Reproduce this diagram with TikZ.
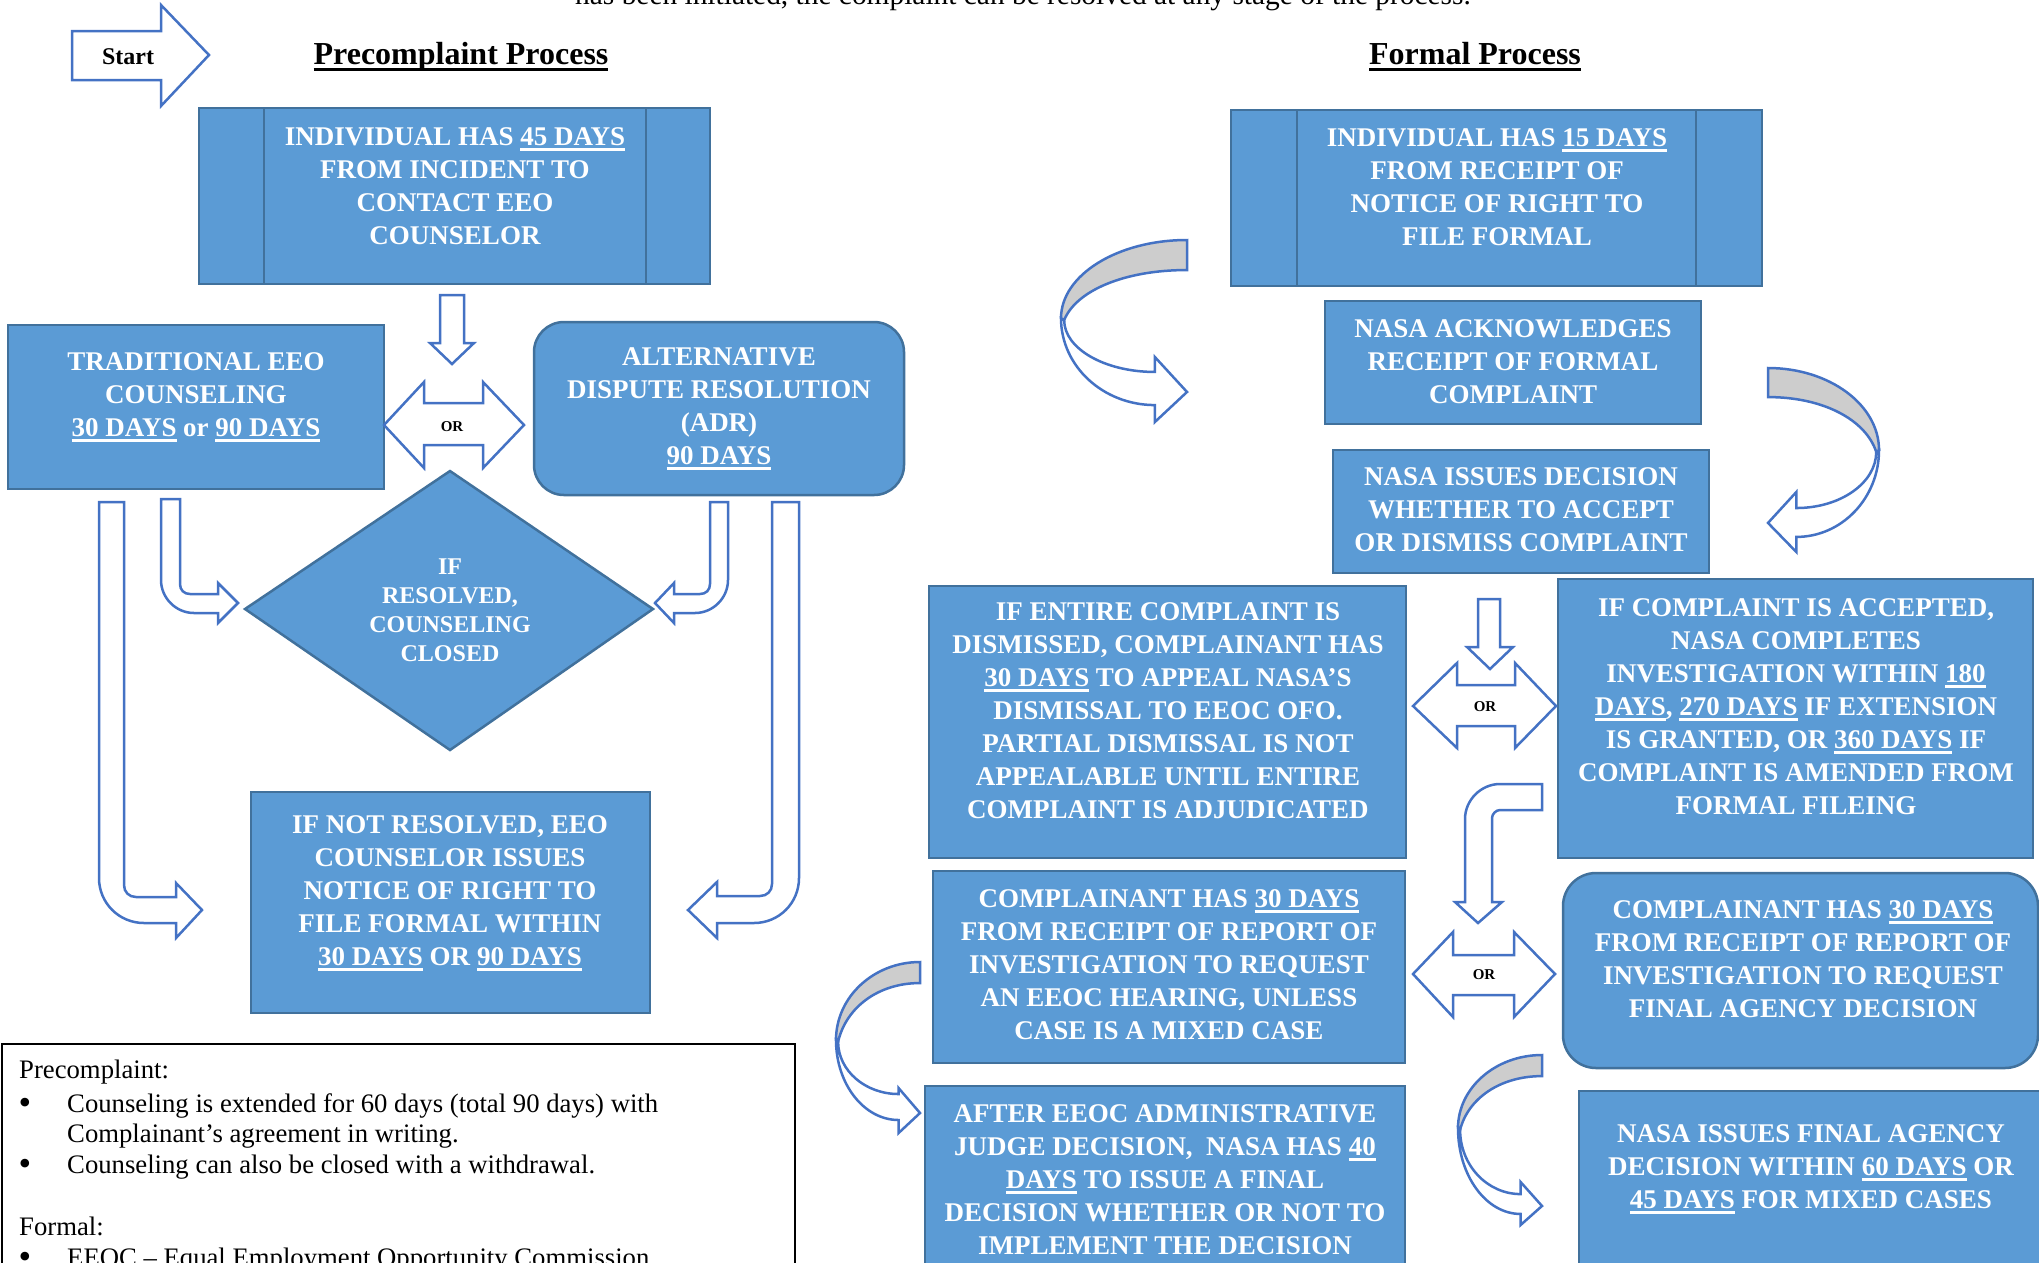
\documentclass[tikz,border=0pt]{standalone}
\usepackage{fontspec}
\setmainfont{Liberation Serif}
\definecolor{boxfill}{HTML}{5B9BD5}
\definecolor{boxline}{HTML}{41719C}
\definecolor{arrline}{HTML}{4472C4}
\definecolor{backgray}{HTML}{CDCDCD}
\newcommand\boxfont{\fontsize{27}{33}\selectfont\bfseries}
\newcommand\ml[1]{\vtop{\halign{\hfil##\hfil\cr#1\crcr}}}
\newcommand\uln[2][0.09em]{\setbox0=\hbox{#2}\rlap{\rule[-0.21em]{\wd0}{#1}}\box0\relax}
\newcommand\curvarr[6]{%
  \pgfmathsetmacro\cL{#1}%
  \pgfmathsetmacro\cLa{0.448*#1}%
  \pgfmathsetmacro\cLb{#1+0.01}%
  \pgfmathsetmacro\cT{#2}%
  \pgfmathsetmacro\cTm{#2+0.43*(#1-#2)}%
  \pgfmathsetmacro\cOa{#1+0.552*(#3-#1)}%
  \pgfmathsetmacro\cIa{#1+0.01+0.552*(#4-#1-0.01)}%
  \path[barrow] (0,\cL) .. controls (0,\cOa) and (0.334,#3) .. (0.745,#3) -- (0.745,1) -- (1,#6) -- (0.745,#5) -- (0.745,#4) .. controls (0.348,#4) and (0.025,\cIa) .. (0.025,\cLb) -- cycle;
  \path[barrow, fill=backgray] (1,0) .. controls (0.448,0) and (0,\cLa) .. (0,\cL) -- (0.025,\cLb) .. controls (0.12,\cTm) and (0.5,\cT) .. (1,\cT) -- cycle;
}
\tikzset{
  box/.style={draw=boxline, fill=boxfill, line width=2.5pt, inner sep=0pt, outer sep=0pt, anchor=north west},
  barrow/.style={draw=arrline, fill=white, line width=2.5pt, line join=miter},
  txt/.style={text=white, font=\boxfont, anchor=base, inner sep=0pt},
  ortxt/.style={anchor=base, inner sep=0pt, font=\fontsize{15}{18}\selectfont\bfseries},
  legtxt/.style={anchor=base west, inner sep=0pt, font=\fontsize{26.7}{31}\selectfont},
  legbul/.style={anchor=base, inner sep=0pt, font=\fontsize{36}{31}\selectfont},
  title/.style={anchor=base, inner sep=0pt, font=\fontsize{32}{38}\selectfont\bfseries},
}
\begin{document}
\begin{tikzpicture}[x=1pt, y=-1pt]
\useasboundingbox (0,0) rectangle (2039,1262);
\clip (0,0) rectangle (2039,1262);

% header text (cut at top)
\node[anchor=base, inner sep=0pt, font=\fontsize{29.4}{36}\selectfont] (thead) at (1023,4) {has been initiated, the complaint can be resolved at any stage of the process.};

% start arrow
\path[barrow] (72,31) -- (161,31) -- (161,5) -- (209,55) -- (161,106) -- (161,80) -- (72,80) -- cycle;
\node[anchor=base, inner sep=0pt, font=\fontsize{24}{28}\selectfont\bfseries] (tstart) at (128,64) {Start};

% titles
\node[title] (tpre) at (461,64) {\uln[0.1em]{Precomplaint Process}};
\node[title] (tform) at (1475,64) {\uln[0.1em]{Formal Process}};

% ---------- precomplaint boxes ----------
\node[box, minimum width=511pt, minimum height=176pt] (b45) at (199,108) {};
\draw[boxline, line width=2.5pt] ([xshift=65pt]b45.north west) -- ([xshift=65pt]b45.south west);
\draw[boxline, line width=2.5pt] ([xshift=-64pt]b45.north east) -- ([xshift=-64pt]b45.south east);
\node[box, minimum width=376pt, minimum height=164pt] (btrad) at (8,325) {};
\node[box, rounded corners=30pt, minimum width=370pt, minimum height=173pt] (badr) at (534,322) {};
\path[box] (450,471) -- (653,609) -- (450,750) -- (245,609) -- cycle;
\coordinate (bdia) at (450,609);
\node[box, minimum width=399pt, minimum height=221pt] (bnot) at (251,792) {};

% precomplaint arrows
\path[barrow] (440,295) -- (464,295) -- (464,343) -- (474,343) -- (452,364) -- (430,343) -- (440,343) -- cycle;
\path[barrow] (384,425) -- (424,382) -- (424,403) -- (483,403) -- (483,382) -- (524,425) -- (483,468) -- (483,445) -- (424,445) -- (424,468) -- cycle;
\node[ortxt] (or0) at (452,431) {OR};
\path[barrow] (161,499) -- (161,580) .. controls (161,598) and (176,613) .. (194,613) -- (218,613) -- (218,623) -- (238,603) -- (218,583) -- (218,594) -- (190,594) .. controls (184,594) and (180,590) .. (180,584) -- (180,499) -- cycle;
\path[barrow] (728,502) -- (728,580) .. controls (728,598) and (713,613) .. (695,613) -- (674,613) -- (674,623) -- (655,603) -- (674,583) -- (674,594) -- (700,594) .. controls (706,594) and (710,590) .. (710,584) -- (710,502) -- cycle;
\path[barrow] (99,502) -- (99,878) .. controls (99,903) and (119,923) .. (144,923) -- (176,923) -- (176,938) -- (202,910) -- (176,883) -- (176,897) -- (136,897) .. controls (129,897) and (124,892) .. (124,885) -- (124,502) -- cycle;
\path[barrow] (799,502) -- (799,878) .. controls (799,903) and (779,923) .. (754,923) -- (717,923) -- (717,938) -- (688,910) -- (717,882) -- (717,896) -- (760,896) .. controls (767,896) and (772,891) .. (772,884) -- (772,502) -- cycle;

% precomplaint texts
\node[txt] (t45) at (455,145) {\ml{INDIVIDUAL HAS \uln{45 DAYS}\cr FROM INCIDENT TO\cr CONTACT EEO\cr COUNSELOR}};
\node[txt] (ttrad) at (196,370) {\ml{TRADITIONAL EEO\cr COUNSELING\cr \uln{30 DAYS} or \uln{90 DAYS}}};
\node[txt] (tadr) at (719,365) {\ml{ALTERNATIVE\cr DISPUTE RESOLUTION\cr (ADR)\cr \uln{90 DAYS}}};
\node[txt, font=\fontsize{24}{29.3}\selectfont\bfseries] (tdia) at (450,574) {\ml{IF\cr RESOLVED,\cr COUNSELING\cr CLOSED}};
\node[txt] (tnot) at (450,833) {\ml{IF NOT RESOLVED, EEO\cr COUNSELOR ISSUES\cr NOTICE OF RIGHT TO\cr FILE FORMAL WITHIN\cr \uln{30 DAYS} OR \uln{90 DAYS}}};

% legend
\node[draw=black, line width=2pt, minimum width=793pt, minimum height=260pt, anchor=north west, inner sep=0pt] (legend) at (1,1043) {};
\node[legtxt] (l1) at (19,1078) {Precomplaint:};
\node[legbul] (l2b) at (25,1114) {•};
\node[legtxt] (l2) at (67,1112) {Counseling is extended for 60 days (total 90 days) with};
\node[legtxt] (l3) at (67,1142) {Complainant’s agreement in writing.};
\node[legbul] (l4b) at (25,1175) {•};
\node[legtxt] (l4) at (67,1173) {Counseling can also be closed with a withdrawal.};
\node[legtxt] (l5) at (19,1235) {Formal:};
\node[legbul] (l6b) at (25,1268) {•};
\node[legtxt] (l6) at (67,1266) {EEOC – Equal Employment Opportunity Commission};

% ---------- formal boxes ----------
\node[box, minimum width=531pt, minimum height=176pt] (b15) at (1231,110) {};
\draw[boxline, line width=2.5pt] ([xshift=66pt]b15.north west) -- ([xshift=66pt]b15.south west);
\draw[boxline, line width=2.5pt] ([xshift=-66pt]b15.north east) -- ([xshift=-66pt]b15.south east);
\node[box, minimum width=376pt, minimum height=123pt] (back) at (1325,301) {};
\node[box, minimum width=376pt, minimum height=123pt] (bdec) at (1333,450) {};
\node[box, minimum width=477pt, minimum height=272pt] (bent) at (929,586) {};
\node[box, minimum width=475pt, minimum height=279pt] (bacc) at (1558,579) {};
\node[box, minimum width=472pt, minimum height=192pt] (bcl) at (933,871) {};
\node[box, rounded corners=33pt, minimum width=475pt, minimum height=195pt] (bcr) at (1563,873) {};
\node[box, minimum width=480pt, minimum height=200pt] (baft) at (925,1086) {};
\node[box, minimum width=475pt, minimum height=200pt] (bfin) at (1579,1091) {};

% formal arrows
\path[barrow] (1478,599) -- (1500,599) -- (1500,647) -- (1513,647) -- (1490,669) -- (1467,647) -- (1478,647) -- cycle;
\path[barrow] (1413,706) -- (1457,663) -- (1457,685) -- (1515,685) -- (1515,663) -- (1556,706) -- (1515,748) -- (1515,726) -- (1457,726) -- (1457,748) -- cycle;
\node[ortxt] (or1) at (1485,711) {OR};
\path[barrow] (1542,784) -- (1500,784) .. controls (1481,784) and (1465,800) .. (1465,819) -- (1465,902) -- (1455,902) -- (1478,923) -- (1502,902) -- (1492,902) -- (1492,818) .. controls (1492,814) and (1496,810) .. (1500,810) -- (1542,810) -- cycle;
\path[barrow] (1413,974) -- (1453,932) -- (1453,955) -- (1514,955) -- (1514,932) -- (1555,974) -- (1514,1017) -- (1514,995) -- (1453,995) -- (1453,1017) -- cycle;
\node[ortxt] (or2) at (1484,979) {OR};

\begin{scope}[shift={(1061,240)}, xscale=126, yscale=182]
  \curvarr{0.43}{0.165}{0.907}{0.725}{0.643}{0.835}
\end{scope}
\begin{scope}[shift={(1879,368)}, xscale=-111, yscale=184]
  \curvarr{0.446}{0.158}{0.918}{0.761}{0.674}{0.842}
\end{scope}
\begin{scope}[shift={(836,962)}, xscale=84, yscale=171]
  \curvarr{0.456}{0.123}{0.924}{0.772}{0.737}{0.883}
\end{scope}
\begin{scope}[shift={(1458,1055)}, xscale=84, yscale=170]
  \curvarr{0.43}{0.124}{0.935}{0.818}{0.747}{0.888}
\end{scope}

% formal texts
\node[txt] (t15) at (1497,146) {\ml{INDIVIDUAL HAS \uln{15 DAYS}\cr FROM RECEIPT OF\cr NOTICE OF RIGHT TO\cr FILE FORMAL}};
\node[txt] (tack) at (1513,337) {\ml{NASA ACKNOWLEDGES\cr RECEIPT OF FORMAL\cr COMPLAINT}};
\node[txt] (tdec) at (1521,485) {\ml{NASA ISSUES DECISION\cr WHETHER TO ACCEPT\cr OR DISMISS COMPLAINT}};
\node[txt] (tent) at (1168,620) {\ml{IF ENTIRE COMPLAINT IS\cr DISMISSED, COMPLAINANT HAS\cr \uln{30 DAYS} TO APPEAL NASA’S\cr DISMISSAL TO EEOC OFO.\cr PARTIAL DISMISSAL IS NOT\cr APPEALABLE UNTIL ENTIRE\cr COMPLAINT IS ADJUDICATED}};
\node[txt] (tacc) at (1796,616) {\ml{IF COMPLAINT IS ACCEPTED,\cr NASA COMPLETES\cr INVESTIGATION WITHIN \uln{180}\cr \uln{DAYS}, \uln{270 DAYS} IF EXTENSION\cr IS GRANTED, OR \uln{360 DAYS} IF\cr COMPLAINT IS AMENDED FROM\cr FORMAL FILEING}};
\node[txt] (tcl) at (1169,907) {\ml{COMPLAINANT HAS \uln{30 DAYS}\cr FROM RECEIPT OF REPORT OF\cr INVESTIGATION TO REQUEST\cr AN EEOC HEARING, UNLESS\cr CASE IS A MIXED CASE}};
\node[txt] (tcr) at (1803,918) {\ml{COMPLAINANT HAS \uln{30 DAYS}\cr FROM RECEIPT OF REPORT OF\cr INVESTIGATION TO REQUEST\cr FINAL AGENCY DECISION}};
\node[txt] (taft) at (1165,1122) {\ml{AFTER EEOC ADMINISTRATIVE\cr JUDGE DECISION,\ \ NASA HAS \uln{40}\cr \uln{DAYS} TO ISSUE A FINAL\cr DECISION WHETHER OR NOT TO\cr IMPLEMENT THE DECISION}};
\node[txt] (tfin) at (1811,1142) {\ml{NASA ISSUES FINAL AGENCY\cr DECISION WITHIN \uln{60 DAYS} OR\cr \uln{45 DAYS} FOR MIXED CASES}};
\end{tikzpicture}
\end{document}
